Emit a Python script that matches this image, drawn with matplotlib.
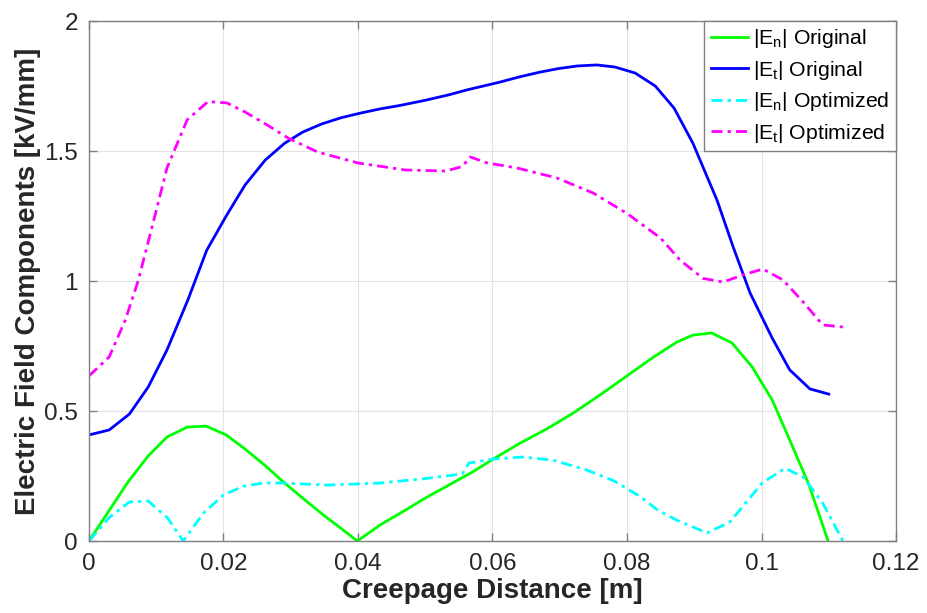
import matplotlib
matplotlib.use("Agg")
import matplotlib.pyplot as plt

plt.rcParams['font.family'] = ['Liberation Sans', 'DejaVu Sans']
plt.rcParams['mathtext.fontset'] = 'custom'
plt.rcParams['mathtext.rm'] = 'Liberation Sans'
plt.rcParams['mathtext.it'] = 'Liberation Sans'

# |En| Original
en_orig_x = [0, 0.0058, 0.0088, 0.0116, 0.0146, 0.0174, 0.0204, 0.0232, 0.0262, 0.029,
             0.032, 0.035, 0.0375, 0.0399, 0.0433, 0.047, 0.050, 0.0535, 0.057, 0.0601,
             0.064, 0.068, 0.072, 0.076, 0.080, 0.0838, 0.0874, 0.0898, 0.0926, 0.0956,
             0.0986, 0.1016, 0.104, 0.107, 0.1099]
en_orig_y = [0, 0.227, 0.327, 0.40, 0.438, 0.442, 0.408, 0.354, 0.29, 0.225,
             0.16, 0.097, 0.048, 0.0, 0.062, 0.118, 0.165, 0.215, 0.265, 0.315,
             0.375, 0.43, 0.492, 0.562, 0.635, 0.705, 0.765, 0.792, 0.80, 0.762,
             0.67, 0.542, 0.40, 0.22, 0.0]

# |Et| Original
et_orig_x = [0, 0.003, 0.006, 0.0088, 0.0116, 0.0147, 0.0175, 0.0204, 0.0232, 0.0262,
             0.0291, 0.0318, 0.0346, 0.0375, 0.0404, 0.0433, 0.0462, 0.05, 0.0535, 0.0562,
             0.0611, 0.064, 0.067, 0.0698, 0.0726, 0.0755, 0.0782, 0.0812, 0.0842, 0.087,
             0.0898, 0.0934, 0.0958, 0.0983, 0.1016, 0.1042, 0.1072, 0.110]
et_orig_y = [0.408, 0.427, 0.488, 0.592, 0.735, 0.927, 1.118, 1.25, 1.369, 1.465,
             1.53, 1.573, 1.604, 1.628, 1.646, 1.662, 1.675, 1.695, 1.716, 1.735,
             1.765, 1.785, 1.803, 1.817, 1.827, 1.831, 1.823, 1.80, 1.75, 1.665,
             1.53, 1.31, 1.13, 0.954, 0.78, 0.658, 0.585, 0.565]

# |En| Optimized
en_opt_x = [0, 0.003, 0.006, 0.0088, 0.0117, 0.014, 0.017, 0.020, 0.0229, 0.0259,
            0.0288, 0.0354, 0.0433, 0.050, 0.0555, 0.0565, 0.060, 0.0645, 0.069, 0.074,
            0.078, 0.0819, 0.0845, 0.0874, 0.0919, 0.0953, 0.1001, 0.1035, 0.1062, 0.1091,
            0.1121]
en_opt_y = [0, 0.09, 0.15, 0.154, 0.088, 0.0, 0.107, 0.177, 0.21, 0.223,
            0.223, 0.215, 0.223, 0.24, 0.258, 0.30, 0.315, 0.323, 0.311, 0.273,
            0.232, 0.172, 0.12, 0.08, 0.031, 0.073, 0.223, 0.28, 0.246, 0.146,
            0.0]

# |Et| Optimized
et_opt_x = [0, 0.003, 0.0054, 0.0073, 0.0094, 0.0116, 0.0146, 0.0177, 0.0205, 0.0232,
            0.0265, 0.0296, 0.034, 0.040, 0.047, 0.053, 0.0555, 0.0567, 0.0592, 0.0636,
            0.0696, 0.075, 0.080, 0.085, 0.0879, 0.0913, 0.0943, 0.0972, 0.1002, 0.1032,
            0.1062, 0.1091, 0.1121]
et_opt_y = [0.635, 0.708, 0.85, 1.0, 1.21, 1.435, 1.62, 1.69, 1.685, 1.65,
            1.60, 1.55, 1.496, 1.454, 1.427, 1.423, 1.44, 1.477, 1.454, 1.435,
            1.396, 1.338, 1.26, 1.165, 1.08, 1.01, 0.996, 1.023, 1.046, 1.004,
            0.919, 0.831, 0.823]

x_ticks = [0, 0.02, 0.04, 0.06, 0.08, 0.1, 0.12]
x_tick_labels = ['0', '0.02', '0.04', '0.06', '0.08', '0.1', '0.12']
y_ticks = [0, 0.5, 1, 1.5, 2]
y_tick_labels = ['0', '0.5', '1', '1.5', '2']

fig = plt.figure(figsize=(9.28, 6.13), dpi=100)
ax = fig.add_axes([89/928, 72/613, (896-89)/928, (541-21)/613])

lw = 2.0
dashdot = (0, (4, 1.8, 1.2, 1.8))
ax.plot(en_orig_x, en_orig_y, color=(0, 1, 0), lw=lw, ls='-', label=r'$\mathregular{|E_n|}$ Original')
ax.plot(et_orig_x, et_orig_y, color=(0, 0, 1), lw=lw, ls='-', label=r'$\mathregular{|E_t|}$ Original')
ax.plot(en_opt_x, en_opt_y, color=(0, 1, 1), lw=lw, ls=dashdot, label=r'$\mathregular{|E_n|}$ Optimized')
ax.plot(et_opt_x, et_opt_y, color=(1, 0, 1), lw=lw, ls=dashdot, label=r'$\mathregular{|E_t|}$ Optimized')

ax.set_xlim(0, 0.12)
ax.set_ylim(0, 2)
ax.set_xticks(x_ticks)
ax.set_xticklabels(x_tick_labels)
ax.set_yticks(y_ticks)
ax.set_yticklabels(y_tick_labels)
ax.grid(True, color='#e3e3e3', lw=0.8)
ax.set_axisbelow(True)
for s in ax.spines.values():
    s.set_color('#808080')
    s.set_linewidth(1.0)
ax.tick_params(direction='in', length=6, width=1.0, color='#808080',
               labelsize=17.5, labelcolor='#262626', top=True, right=True)
ax.tick_params(axis='x', pad=9)
ax.tick_params(axis='y', pad=8)

ax.set_xlabel('Creepage Distance [m]', fontsize=20, fontweight='bold', color='#262626', labelpad=2)
ax.set_ylabel('Electric Field Components [kV/mm]', fontsize=20, fontweight='bold', color='#262626', labelpad=2)

leg = ax.legend(loc='upper right', fontsize=15.3, frameon=True, fancybox=False,
                borderaxespad=0.0, handlelength=1.75, handletextpad=0.25,
                labelspacing=0.4, borderpad=0.3)
leg.get_frame().set_edgecolor('#808080')
leg.get_frame().set_linewidth(1.0)
leg.get_frame().set_alpha(1.0)

fig.savefig('out.png', dpi=100)
